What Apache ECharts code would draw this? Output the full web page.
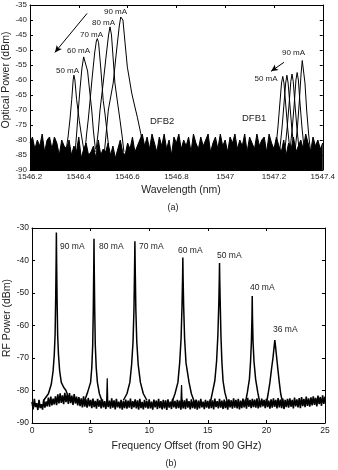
<!DOCTYPE html>
<html>
<head>
<meta charset="utf-8">
<script src="https://cdn.jsdelivr.net/npm/echarts@6/dist/echarts.min.js"></script>
<style>
  html, body { margin: 0; padding: 0; background: #fff; }
  #main { width: 338px; height: 470px; }
</style>
</head>
<body>
<div id="main"></div>
<script>
// ---- (a) optical spectrum ----
const wlTicks = [1546.2, 1546.4, 1546.6, 1546.8, 1547, 1547.2, 1547.4]
// DFB2 peaks, one trace per bias current [wavelength nm, dBm]
const dfb2_50 = [[1546.345, -85], [1546.356, -79], [1546.364, -73], [1546.371, -66.5], [1546.377, -60], [1546.380, -58.4], [1546.384, -60], [1546.391, -66.5], [1546.402, -73.5], [1546.410, -78], [1546.420, -83]]
const dfb2_60 = [[1546.385, -84], [1546.392, -77], [1546.398, -70], [1546.405, -63], [1546.413, -56], [1546.420, -52.3], [1546.424, -51.8], [1546.428, -52.5], [1546.436, -57], [1546.445, -64], [1546.453, -70], [1546.460, -77], [1546.468, -83]]
const dfb2_70 = [[1546.425, -84], [1546.432, -78], [1546.439, -73], [1546.446, -67], [1546.455, -59], [1546.465, -51], [1546.472, -47], [1546.476, -46.2], [1546.481, -47.5], [1546.490, -56], [1546.500, -66.8], [1546.507, -71], [1546.514, -76], [1546.522, -82]]
const dfb2_80 = [[1546.470, -84], [1546.480, -77], [1546.487, -70], [1546.500, -61], [1546.512, -52], [1546.522, -45], [1546.528, -42.3], [1546.534, -45], [1546.548, -61], [1546.558, -67], [1546.569, -73.4], [1546.578, -79], [1546.585, -84]]
const dfb2_90 = [[1546.505, -84], [1546.513, -77], [1546.521, -70], [1546.541, -61], [1546.555, -50], [1546.566, -42], [1546.572, -39], [1546.576, -38.4], [1546.581, -40], [1546.590, -48], [1546.599, -55.7], [1546.608, -60], [1546.617, -64.4], [1546.630, -69], [1546.640, -72.4], [1546.654, -77.8], [1546.665, -83]]
// DFB1 peaks
const dfb1_a = [[1547.206, -84], [1547.216, -76], [1547.224, -68], [1547.231, -61], [1547.236, -58.8], [1547.241, -61], [1547.248, -68], [1547.256, -76], [1547.266, -84]]
const dfb1_b = [[1547.223, -84], [1547.233, -76], [1547.241, -68], [1547.248, -61], [1547.253, -58.4], [1547.258, -61], [1547.265, -68], [1547.273, -76], [1547.283, -84]]
const dfb1_c = [[1547.244, -84], [1547.254, -76], [1547.262, -68], [1547.269, -60.5], [1547.274, -58.0], [1547.279, -60.5], [1547.286, -68], [1547.294, -76], [1547.304, -84]]
const dfb1_d = [[1547.265, -84], [1547.275, -76], [1547.283, -68], [1547.290, -60], [1547.295, -57.5], [1547.300, -60], [1547.307, -68], [1547.315, -76], [1547.325, -84]]
const dfb1_e = [[1547.286, -84], [1547.296, -76], [1547.304, -67], [1547.311, -58], [1547.316, -53.5], [1547.318, -52.9], [1547.321, -54], [1547.327, -61], [1547.334, -70], [1547.342, -78], [1547.350, -84]]
// noise floor envelope, sampled every 0.01 nm from 1546.20
const optNoiseStart = 1546.2
const optNoiseStep = 0.01
const optNoise = [
  -81, -79, -83, -80, -82, -78, -84, -80, -79, -83, -79, -81, -85, -80, -82,
  -83, -80, -85, -82, -84, -79, -86, -83, -81, -85, -84, -82, -86, -80, -85,
  -83, -84, -81, -85, -82, -86, -83, -80, -84, -85, -81, -83, -79, -84, -82,
  -80, -78, -82, -79, -83, -78, -81, -84, -79, -82, -78, -83, -80, -85, -79,
  -81, -78, -83, -80, -82, -79, -84, -78, -81, -83, -79, -82, -80, -78, -84,
  -81, -79, -83, -78, -82, -80, -84, -79, -81, -78, -83, -80, -82, -78, -84,
  -79, -81, -83, -78, -82, -80, -79, -84, -78, -81, -83,
  -79, -82, -84, -80, -85, -81, -83, -79, -84, -82, -80, -83, -78, -81, -84, -79, -82, -80, -83, -81
]

// ---- (b) RF spectrum ----
const rf90 = [[1.0, -83], [1.4, -81], [1.65, -78], [1.8, -74], [1.9, -69], [1.97, -63], [2.02, -52], [2.06, -40], [2.08, -31.4], [2.10, -40], [2.14, -52], [2.19, -63], [2.26, -69], [2.36, -74], [2.5, -77.5], [2.7, -79], [2.9, -80], [3.1, -82], [3.4, -83]]
const rf80 = [[4.5, -83], [4.75, -80.5], [5.0, -77.5], [5.1, -73], [5.18, -66], [5.23, -55], [5.27, -42], [5.29, -33.3], [5.31, -42], [5.35, -55], [5.40, -66], [5.48, -73], [5.58, -77.5], [5.75, -81], [6.0, -83.5]]
const rf70 = [[7.8, -83], [8.1, -81], [8.35, -77.5], [8.5, -72], [8.62, -65], [8.70, -55], [8.75, -43], [8.78, -34.1], [8.81, -43], [8.86, -55], [8.94, -65], [9.06, -72], [9.25, -77.5], [9.5, -81], [9.8, -83]]
const rf60 = [[11.9, -84], [12.2, -81], [12.45, -77.5], [12.6, -71.5], [12.72, -64], [12.80, -54], [12.85, -45], [12.87, -39.1], [12.89, -45], [12.94, -54], [13.02, -64], [13.14, -71.5], [13.4, -77.5], [13.6, -81], [13.9, -84]]
const rf50 = [[15.2, -84], [15.4, -80.5], [15.6, -77], [15.75, -71], [15.86, -63], [15.94, -53], [15.98, -46], [16.0, -40.8], [16.02, -46], [16.06, -53], [16.12, -63], [16.2, -71], [16.3, -77], [16.45, -80.5], [16.7, -84]]
const rf40 = [[18.2, -84], [18.38, -80.5], [18.55, -76.5], [18.65, -71], [18.72, -65], [18.77, -57], [18.79, -50.9], [18.81, -57], [18.86, -65], [18.94, -71], [19.08, -76.5], [19.26, -80.5], [19.45, -84]]
const rf36 = [[20.0, -84], [20.15, -81], [20.3, -77.5], [20.45, -73], [20.56, -70], [20.66, -66.5], [20.72, -64.5], [20.78, -66.5], [20.88, -70], [20.98, -73.5], [21.1, -77.5], [21.22, -81], [21.4, -84]]
const rfSpur1 = [[6.36, -84], [6.42, -76.2], [6.47, -84]]
const rfSpur2 = [[12.70, -84], [12.76, -78.3], [12.81, -84]]
// noise floor, sampled every 0.1 GHz from 0
const rfNoiseStart = 0
const rfNoiseStep = 0.1
const rfNoise = [
  -83.5, -85.8, -82.6, -85.1, -83.9, -86.0, -82.9, -85.4, -84.2, -85.9,
  -82.8, -85.3, -83.4, -84.9, -82.2, -85.0, -81.9, -84.6, -82.5, -84.3,
  -81.8, -84.5, -81.2, -84.0, -80.9, -83.8, -81.5, -84.2, -80.7, -83.6,
  -81.3, -84.1, -80.8, -83.9, -81.6, -84.4, -81.1, -84.0, -81.9, -84.6,
  -82.0, -84.8, -82.4, -85.2, -81.8, -85.0, -82.7, -85.3, -82.3, -84.9,
  -82.9, -85.4, -82.5, -85.1, -83.2, -85.6, -82.6, -85.0, -83.0, -85.5,
  -82.7, -85.2, -83.3, -85.7, -82.8, -85.1, -83.1, -85.6, -82.4, -85.3,
  -83.0, -85.8, -82.6, -85.2, -83.4, -85.5, -82.9, -85.9, -83.2, -85.4,
  -82.8, -85.6, -83.1, -85.3, -82.5, -85.7, -83.3, -85.2, -82.7, -85.5,
  -83.0, -85.9, -82.6, -85.4, -83.5, -85.8, -82.9, -85.3, -83.2, -85.6,
  -82.7, -85.5, -83.4, -85.9, -82.8, -85.2, -83.1, -85.7, -82.6, -85.4,
  -83.3, -85.8, -82.9, -85.5, -83.0, -86.0, -82.7, -85.3, -83.4, -85.7,
  -82.6, -85.2, -83.2, -85.6, -82.9, -85.4, -83.1, -85.9, -82.8, -85.5,
  -83.0, -85.7, -82.5, -85.3, -83.3, -85.8, -82.7, -85.4, -83.2, -85.6,
  -82.8, -85.9, -83.1, -85.5, -82.6, -85.2, -83.4, -85.7, -82.9, -85.3,
  -83.2, -85.6, -82.7, -85.4, -83.0, -85.8, -82.5, -85.1, -83.3, -85.5,
  -82.6, -85.3, -83.1, -85.7, -82.8, -85.4, -83.2, -85.9, -82.7, -85.2,
  -83.0, -85.6, -82.4, -85.3, -82.9, -85.5, -82.6, -85.8, -83.1, -85.4,
  -82.5, -85.2, -82.8, -85.6, -82.3, -85.0, -82.9, -85.4, -82.6, -85.1,
  -82.8, -85.3, -82.4, -85.5, -83.0, -85.2, -82.5, -84.9, -82.9, -85.4,
  -82.6, -85.1, -83.1, -85.6, -82.7, -85.3, -82.4, -85.0, -82.9, -85.5,
  -82.3, -85.2, -82.8, -85.4, -82.5, -85.7, -82.9, -85.1, -82.6, -85.3,
  -82.4, -85.0, -82.9, -85.5, -82.2, -84.9, -82.7, -85.2, -82.3, -85.4,
  -82.0, -84.8, -82.6, -85.1, -81.9, -84.7, -82.4, -85.0, -82.1, -84.6,
  -81.8, -84.4, -82.3, -84.9, -81.6, -84.2, -82.0, -84.7, -81.5, -84.1, -81.9
]

const FONT = 'Liberation Sans, Arial, sans-serif'
const TXT = '#222'

const optNoiseData = optNoise.map((v, i) => [+(optNoiseStart + i * optNoiseStep).toFixed(3), v])
const rfNoiseData = rfNoise.map((v, i) => [+(rfNoiseStart + i * rfNoiseStep).toFixed(2), v])

const chart = echarts.init(document.getElementById('main'))

function axisBase (grid, pos, min, max, interval, labels, fs) {
  return {
    type: 'value',
    gridIndex: grid,
    position: pos,
    min: min,
    max: max,
    interval: interval,
    axisLine: { show: true, onZero: false, lineStyle: { color: '#000', width: 1 } },
    axisTick: { show: true, inside: true, length: 3, lineStyle: { color: '#000' } },
    splitLine: { show: false },
    axisLabel: labels
      ? { show: true, fontSize: fs, color: TXT, fontFamily: FONT, margin: 3, formatter: v => String(Math.round(v * 10) / 10) }
      : { show: false }
  }
}

function trace (data, xi, yi, w) {
  return {
    type: 'line',
    xAxisIndex: xi,
    yAxisIndex: yi,
    data: data,
    showSymbol: false,
    symbol: 'none',
    lineStyle: { color: '#000', width: w },
    silent: true
  }
}

const arrowStyle = {
  silent: true,
  symbol: ['none', 'arrow'],
  symbolSize: [5, 7],
  label: { show: false },
  lineStyle: { color: '#000', width: 1, type: 'solid' },
  animation: false
}

const series = [
  // noise floor (a)
  {
    type: 'line',
    xAxisIndex: 0,
    yAxisIndex: 0,
    data: optNoiseData,
    symbol: 'none',
    lineStyle: { color: '#000', width: 1 },
    areaStyle: { color: '#000', opacity: 1, origin: 'start' },
    silent: true
  },
  trace(dfb2_50, 0, 0, 1),
  trace(dfb2_60, 0, 0, 1),
  trace(dfb2_70, 0, 0, 1),
  trace(dfb2_80, 0, 0, 1),
  Object.assign(trace(dfb2_90, 0, 0, 1), {
    markLine: Object.assign({ data: [[{ coord: [1546.434, -37.8] }, { coord: [1546.302, -50.8] }]] }, arrowStyle)
  }),
  trace(dfb1_a, 0, 0, 1),
  trace(dfb1_b, 0, 0, 1),
  trace(dfb1_c, 0, 0, 1),
  trace(dfb1_d, 0, 0, 1),
  Object.assign(trace(dfb1_e, 0, 0, 1), {
    markLine: Object.assign({ data: [[{ coord: [1547.241, -54.1] }, { coord: [1547.188, -57.1] }]] }, arrowStyle)
  }),
  // (b)
  trace(rfNoiseData, 2, 2, 1.6),
  trace(rf90, 2, 2, 1.5),
  trace(rf80, 2, 2, 1.5),
  trace(rf70, 2, 2, 1.5),
  trace(rf60, 2, 2, 1.5),
  trace(rf50, 2, 2, 1.5),
  trace(rf40, 2, 2, 1.5),
  trace(rf36, 2, 2, 1.5),
  trace(rfSpur1, 2, 2, 1.2),
  trace(rfSpur2, 2, 2, 1.2)
]

function txt (text, x, y, fs, align, rot) {
  return {
    type: 'text',
    x: x,
    y: y,
    rotation: rot || 0,
    silent: true,
    style: {
      text: text,
      fontSize: fs,
      fontFamily: FONT,
      fill: TXT,
      align: align || 'left',
      verticalAlign: 'middle'
    }
  }
}

const graphics = [
  txt('90 mA', 104, 12, 8),
  txt('80 mA', 92, 23, 8),
  txt('70 mA', 80, 34.5, 8),
  txt('60 mA', 67, 51, 8),
  txt('50 mA', 56, 71, 8),
  txt('90 mA', 282, 53, 8),
  txt('50 mA', 254.5, 79, 8),
  txt('DFB2', 150, 121, 9.5),
  txt('DFB1', 242, 118.5, 9.5),
  txt('Wavelength (nm)', 181, 190, 10.5, 'center'),
  txt('(a)', 173, 208, 9, 'center'),
  txt('Optical Power (dBm)', 6.5, 80, 10.5, 'center', Math.PI / 2),
  txt('90 mA', 60, 247, 8.5),
  txt('80 mA', 99, 247, 8.5),
  txt('70 mA', 139, 247, 8.5),
  txt('60 mA', 178, 251, 8.5),
  txt('50 mA', 217, 256, 8.5),
  txt('40 mA', 250, 288, 8.5),
  txt('36 mA', 273, 330, 8.5),
  txt('Frequency Offset (from 90 GHz)', 186.5, 446, 10.5, 'center'),
  txt('(b)', 171, 464, 9, 'center'),
  txt('RF Power (dBm)', 7.5, 318, 10.5, 'center', Math.PI / 2)
]

chart.setOption({
  animation: false,
  backgroundColor: '#fff',
  textStyle: { fontFamily: FONT },
  grid: [
    { left: 30, top: 5, width: 293, height: 165, containLabel: false },
    { left: 32, top: 228, width: 293, height: 195, containLabel: false }
  ],
  xAxis: [
    axisBase(0, 'bottom', wlTicks[0], wlTicks[wlTicks.length - 1], 0.2, true, 8),
    axisBase(0, 'top', wlTicks[0], wlTicks[wlTicks.length - 1], 0.2, false),
    axisBase(1, 'bottom', 0, 25, 5, true, 8.5),
    axisBase(1, 'top', 0, 25, 5, false)
  ],
  yAxis: [
    axisBase(0, 'left', -90, -35, 5, true, 8),
    axisBase(0, 'right', -90, -35, 5, false),
    axisBase(1, 'left', -90, -30, 10, true, 8.5),
    axisBase(1, 'right', -90, -30, 10, false)
  ],
  series: series,
  graphic: graphics
})
</script>
</body>
</html>
